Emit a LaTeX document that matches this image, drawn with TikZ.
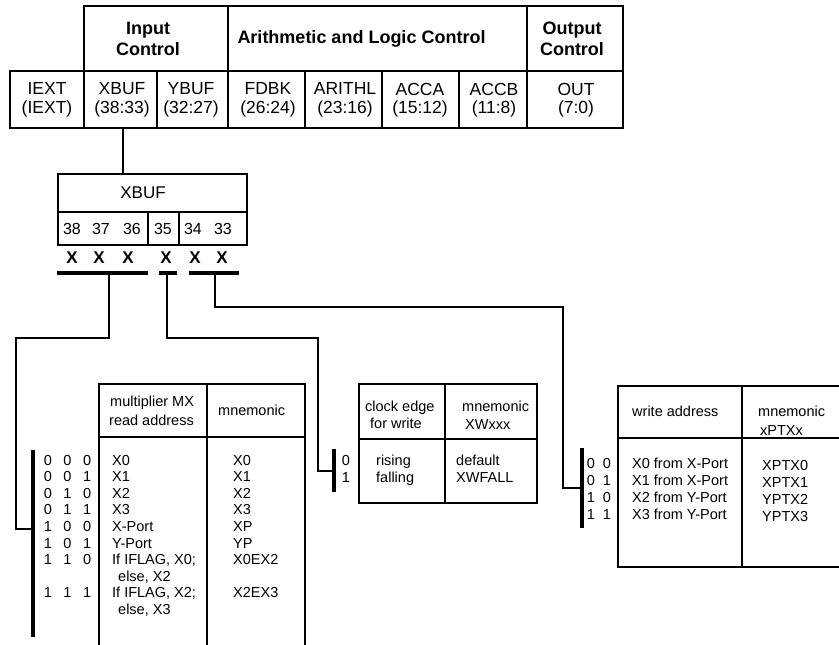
\documentclass[tikz,border=0pt]{standalone}
\usepackage{fontspec}
\setmainfont{Liberation Sans}
\newcommand\tribits[3]{#1\hspace{11.5pt}#2\hspace{11.5pt}#3}
\newcommand\duobits[2]{#1\hspace{8pt}#2}
\begin{document}
\begin{tikzpicture}[x=1pt,y=-1pt,
  box/.style={draw=black, line width=2.4pt},
  conn/.style={draw=black, line width=1.8pt},
  barline/.style={draw=black, line width=3.6pt},
  hdr/.style={font=\fontsize{18}{21}\selectfont\bfseries, align=center, inner sep=0pt},
  cell/.style={font=\fontsize{17.5}{18.5}\selectfont, align=center, inner sep=0pt},
  xbtx/.style={font=\fontsize{16}{18}\selectfont, inner sep=0pt},
  xmark/.style={font=\fontsize{17}{19}\selectfont\bfseries, inner sep=0pt},
  tx/.style={font=\fontsize{14.5}{16}\selectfont, inner sep=0pt, anchor=west, text height=1.5ex, text depth=0.3ex},
  dg/.style={font=\fontsize{14.5}{16}\selectfont, inner sep=0pt, text height=1.5ex, text depth=0.3ex}
]
\useasboundingbox (0,0) rectangle (839,645);

% ---------- top table ----------
\draw[box] (84,6) rectangle (623,71);
\draw[box] (10,71) rectangle (623,128);
\foreach \xx in {84,157,305,382,459} \draw[box] (\xx,71) -- (\xx,128);
\foreach \xx in {228,527} \draw[box] (\xx,6) -- (\xx,128);

\node[hdr] (hin)  at (148,39) {Input\\Control};
\node[hdr] (halu) at (361.5,39) {Arithmetic and Logic Control};
\node[hdr] (hout) at (572,39) {Output\\Control};

\node[cell] (ciext)  at (47,100)    {IEXT\\(IEXT)};
\node[cell] (cxbuf)  at (122,100)   {XBUF\\(38:33)};
\node[cell] (cybuf)  at (191,100)   {YBUF\\(32:27)};
\node[cell] (cfdbk)  at (268,100)   {FDBK\\(26:24)};
\node[cell] (carith) at (345,100)   {ARITHL\\(23:16)};
\node[cell] (cacca)  at (420,100)   {ACCA\\(15:12)};
\node[cell] (caccb)  at (494,100)   {ACCB\\(11:8)};
\node[cell] (cout)   at (576,100)   {OUT\\(7:0)};

% ---------- XBUF box ----------
\draw[box] (58,174) rectangle (247,245);
\draw[box] (58,212) -- (247,212);
\draw[box] (148,212) -- (148,245);
\draw[box] (179,212) -- (179,245);
\node[font=\fontsize{17}{19}\selectfont, inner sep=0pt] (xbt) at (143,193) {XBUF};
\foreach \n/\xx in {38/72,37/101,36/132,35/163,34/193,33/223}
  \node[xbtx] (bit\n) at (\xx,229) {\n};
\foreach \n/\xx in {38/72,37/99,36/128,35/166,34/195,33/222}
  \node[xmark] (xm\n) at (\xx,258) {X};

\coordinate (xcell) at (123,128);
\coordinate (xbox) at (123,174);
\draw[conn] (xcell) -- (xbox);

% bars under the X's
\draw[barline] (57,273) -- (148,273);
\draw[barline] (159,273) -- (177,273);
\draw[barline] (189,273) -- (239,273);
\coordinate (b1) at (109,273);
\coordinate (b2) at (167,273);
\coordinate (b3) at (215,273);

% bars at the tables
\draw[barline] (33,450) -- (33,637);
\draw[barline] (334,449) -- (334,492);
\draw[barline] (582,448) -- (582,528);
\coordinate (t1) at (33,529);
\coordinate (t2) at (334,471);
\coordinate (t3) at (582,488);

\draw[conn] (b1) |- (16,338) |- (t1);
\draw[conn] (b2) |- (318,338) |- (t2);
\draw[conn] (b3) |- (563,307) |- (t3);

% ---------- left table ----------
\draw[box] (99,646) -- (99,384) -- (305,384) -- (305,646);
\draw[box] (207,384) -- (207,646);
\draw[box] (99,437) -- (305,437);
\node[tx] (lh1) at (110,403) {multiplier MX};
\node[tx] (lh2) at (109,422) {read address};
\node[tx] (lh3) at (218,412) {mnemonic};

\foreach \i/\a/\b/\c/\d/\e in {0/0/0/0/X0/X0, 1/0/0/1/X1/X1, 2/0/1/0/X2/X2, 3/0/1/1/X3/X3,
    4/1/0/0/X-Port/XP, 5/1/0/1/Y-Port/YP, 6/1/1/0/{If IFLAG, X0;}/X0EX2, 8/1/1/1/{If IFLAG, X2;}/X2EX3} {
  \node[dg] (lb\i) at (67.5,462+16.6*\i) {\tribits{\a}{\b}{\c}};
  \node[tx] (lm\i) at (112,462+16.6*\i) {\d};
  \node[tx] (ln\i) at (233,462+16.6*\i) {\e};
}
\node[tx] (lm7) at (118,462+16.6*7) {else, X2};
\node[tx] (lm9) at (118,462+16.6*9) {else, X3};

% ---------- middle table ----------
\draw[box] (359,384) rectangle (537,503);
\draw[box] (445,384) -- (445,503);
\draw[box] (359,439) -- (537,439);
\node[tx] (mh1) at (365,408) {clock edge};
\node[tx] (mh2) at (370,425) {for write};
\node[tx] (mh3) at (462,408) {mnemonic};
\node[tx] (mh4) at (465,426) {XWxxx};
\node[dg] (md0) at (346,462) {0};
\node[dg] (md1) at (346,479) {1};
\node[tx] (mr0) at (376,462) {rising};
\node[tx] (mr1) at (376,479) {falling};
\node[tx] (mn0) at (456,462) {default};
\node[tx] (mn1) at (456,479) {XWFALL};

% ---------- right table ----------
\draw[box] (840,386) -- (618,386) -- (618,567) -- (840,567);
\draw[box] (742,386) -- (742,567);
\draw[box] (618,438) -- (840,438);
\node[tx] (rh1) at (632,413) {write address};
\node[tx] (rh2) at (758,413) {mnemonic};
\node[tx] (rh3) at (760,432) {xPTXx};
\foreach \i/\a/\b/\d/\e in {0/0/0/X0 from X-Port/XPTX0, 1/0/1/X1 from X-Port/XPTX1,
    2/1/0/X2 from Y-Port/YPTX2, 3/1/1/X3 from Y-Port/YPTX3} {
  \node[dg] (rb\i) at (599,465+17*\i) {\duobits{\a}{\b}};
  \node[tx] (rm\i) at (632,465+17*\i) {\d};
  \node[tx] (rn\i) at (762,467+17*\i) {\e};
}
\end{tikzpicture}
\end{document}
